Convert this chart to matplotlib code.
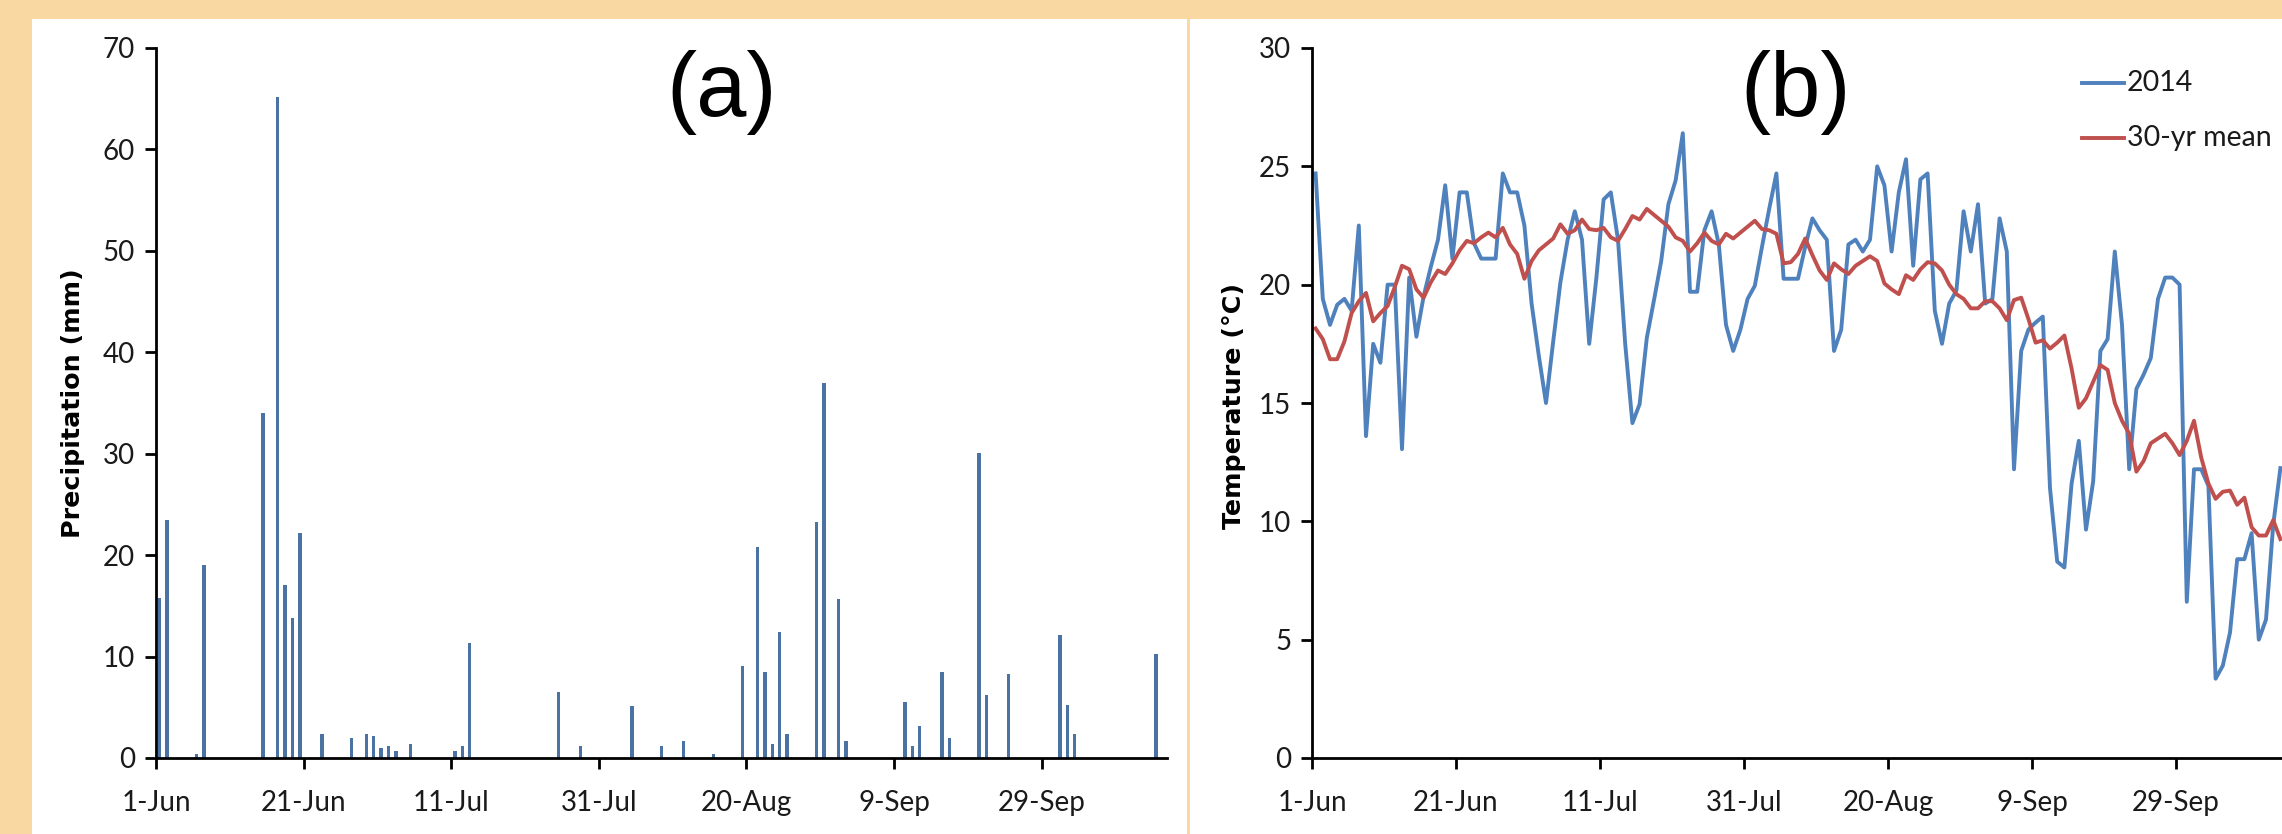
import numpy as np
import matplotlib.pyplot as plt
from matplotlib.patches import Rectangle
from matplotlib.lines import Line2D

# ---- data (day index counted from 1-Jun, 2014) ----
n_days = 137  # 1-Jun .. 15-Oct
tick_days = [0, 20, 40, 60, 80, 100, 120]
tick_labels = ['1-Jun', '21-Jun', '11-Jul', '31-Jul', '20-Aug', '9-Sep', '29-Sep']

rain_day = [0, 1, 5, 6, 14, 16, 17, 18, 19, 22,
            26, 28, 29, 30, 31, 32, 34, 40, 41, 42,
            54, 57, 64, 68, 71, 75, 79, 81, 82, 83,
            84, 85, 89, 90, 92, 93, 101, 102, 103, 106,
            107, 111, 112, 115, 122, 123, 124, 135]
rain_mm = [15.8, 23.5, 0.4, 19.0, 34.0, 65.2, 17.1, 13.8, 22.2, 2.4,
           2.0, 2.4, 2.2, 1.0, 1.2, 0.65, 1.4, 0.65, 1.2, 11.3,
           6.5, 1.2, 5.1, 1.2, 1.7, 0.4, 9.1, 20.8, 8.5, 1.4,
           12.4, 2.4, 23.3, 37.0, 15.7, 1.7, 5.5, 1.2, 3.2, 8.5,
           2.0, 30.1, 6.2, 8.3, 12.1, 5.2, 2.4, 10.3]

temp_2014 = [24.7, 19.4, 18.3, 19.15, 19.4, 18.9, 22.5, 13.6, 17.5, 16.7,
             20.0, 20.0, 13.05, 20.3, 17.8, 19.5, 20.75, 21.9, 24.2, 21.1,
             23.9, 23.9, 21.75, 21.1, 21.1, 21.1, 24.7, 23.9, 23.9, 22.5,
             19.2, 17.0, 15.0, 17.6, 20.1, 21.9, 23.1, 21.9, 17.5, 20.3,
             23.6, 23.9, 21.9, 17.5, 14.15, 14.95, 17.75, 19.35, 21.0, 23.4,
             24.4, 26.4, 19.7, 19.7, 22.3, 23.1, 21.7, 18.3, 17.2, 18.1,
             19.4, 19.95, 21.6, 23.2, 24.7, 20.25, 20.25, 20.25, 21.6, 22.8,
             22.3, 21.9, 17.2, 18.1, 21.7, 21.9, 21.4, 21.9, 25.0, 24.2,
             21.4, 23.9, 25.3, 20.8, 24.45, 24.7, 18.9, 17.5, 19.2, 19.75,
             23.1, 21.4, 23.4, 19.2, 19.4, 22.8, 21.4, 12.2, 17.2, 18.1,
             18.4, 18.65, 11.4, 8.3, 8.05, 11.6, 13.4, 9.65, 11.7, 17.2,
             17.7, 21.4, 18.3, 12.2, 15.6, 16.2, 16.9, 19.4, 20.3, 20.3,
             20.0, 6.6, 12.2, 12.2, 11.5, 3.35, 3.9, 5.3, 8.4, 8.4,
             9.5, 5.0, 5.85, 9.85, 12.25]
temp_mean = [18.15, 17.7, 16.85, 16.85, 17.6, 18.8, 19.3, 19.65, 18.45, 18.8,
             19.1, 19.9, 20.8, 20.65, 19.8, 19.45, 20.1, 20.6, 20.45, 20.9,
             21.45, 21.85, 21.75, 22.0, 22.2, 22.0, 22.4, 21.7, 21.3, 20.25,
             21.0, 21.45, 21.7, 21.95, 22.55, 22.15, 22.3, 22.75, 22.35, 22.3,
             22.4, 22.0, 21.85, 22.35, 22.9, 22.75, 23.2, 22.95, 22.7, 22.45,
             22.0, 21.85, 21.4, 21.75, 22.2, 21.85, 21.7, 22.15, 21.95, 22.2,
             22.45, 22.7, 22.35, 22.3, 22.15, 20.9, 20.95, 21.3, 21.95, 21.25,
             20.6, 20.2, 20.9, 20.65, 20.45, 20.8, 21.0, 21.2, 21.0, 20.05,
             19.8, 19.6, 20.4, 20.2, 20.65, 20.95, 20.9, 20.6, 20.0, 19.6,
             19.4, 19.0, 19.0, 19.3, 19.3, 19.0, 18.5, 19.35, 19.45, 18.55,
             17.55, 17.65, 17.3, 17.55, 17.85, 16.45, 14.8, 15.2, 15.9, 16.6,
             16.4, 15.0, 14.25, 13.7, 12.1, 12.55, 13.3, 13.5, 13.7, 13.3,
             12.8, 13.4, 14.25, 12.7, 11.6, 10.95, 11.25, 11.3, 10.7, 11.0,
             9.75, 9.4, 9.4, 10.05, 9.25]
series_labels = ['2014', '30-yr mean']

# ---- layout (pixels of the 2282x834 picture) ----
W, H = 2282, 834
BG = '#f9d9a1'
BLUE = '#4f81bd'
RED = '#c0504d'
BAR = '#4a73a4'

plt.rcParams['font.family'] = ['Lato', 'DejaVu Sans']


def fx(px):
    return px / W


def fy(py):
    return 1 - py / H


fig = plt.figure(figsize=(W / 100, H / 100), dpi=100)
fig.patch.set_facecolor(BG)

# white panels with the thin orange gap between them
fig.add_artist(Rectangle((fx(32), 0), fx(1187) - fx(32), fy(19), transform=fig.transFigure,
                         facecolor='white', edgecolor='none', zorder=-5))
fig.add_artist(Rectangle((fx(1190), 0), 1 - fx(1190), fy(19), transform=fig.transFigure,
                         facecolor='white', edgecolor='none', zorder=-5))

ax1 = fig.add_axes([fx(156), fy(758), 137 * 7.38 / W, 710 / H])
ax2 = fig.add_axes([fx(1312), fy(758), 137 * 7.2 / W, 710 / H])


def style(ax):
    ax.patch.set_alpha(0)
    for s in ['top', 'right']:
        ax.spines[s].set_visible(False)
    for s in ['left', 'bottom']:
        ax.spines[s].set_linewidth(2.0)
        ax.spines[s].set_color('black')
    ax.tick_params(direction='out', length=8, width=2.0, labelsize=20, colors='black',
                   labelcolor='#1a1a1a')
    ax.tick_params(axis='y', pad=7)
    ax.tick_params(axis='x', pad=15)
    ax.set_xlim(0, n_days)
    ax.set_xticks(tick_days)
    ax.set_xticklabels(tick_labels)


# (a) precipitation
ax1.bar(np.array(rain_day) + 0.5, rain_mm, width=0.45, color=BAR, linewidth=0)
ax1.set_ylim(0, 70)
ax1.set_yticks(range(0, 71, 10))
style(ax1)

# (b) temperature
x = np.arange(len(temp_2014)) + 0.5
ax2.plot(x, temp_2014, color=BLUE, lw=2.8, label=series_labels[0])
ax2.plot(np.arange(len(temp_mean)) + 0.5, temp_mean, color=RED, lw=2.8, label=series_labels[1])
ax2.set_ylim(0, 30)
ax2.set_yticks(range(0, 31, 5))
style(ax2)

# axis titles
fig.text(fx(73), fy(403), 'Precipitation (mm)', rotation=90, ha='center', va='center',
         fontsize=18.3, fontweight='bold', family='DejaVu Sans')
fig.text(fx(1234), fy(406), 'Temperature (°C)', rotation=90, ha='center', va='center',
         fontsize=18.3, fontweight='bold', family='DejaVu Sans')

# panel letters
fig.text(fx(722), fy(116), '(a)', fontsize=65, ha='center', va='baseline', family='Liberation Sans')
fig.text(fx(1796), fy(116), '(b)', fontsize=65, ha='center', va='baseline', family='Liberation Sans')

# legend
for lab, col, yy in zip(series_labels, [BLUE, RED], [83, 138]):
    fig.add_artist(Line2D([fx(2082), fx(2124)], [fy(yy), fy(yy)], color=col, lw=2.8,
                          transform=fig.transFigure))
    fig.text(fx(2127), fy(yy), lab, fontsize=20.5, ha='left', va='center', color='#1a1a1a')

fig.savefig('out.png', dpi=100, facecolor=BG)
